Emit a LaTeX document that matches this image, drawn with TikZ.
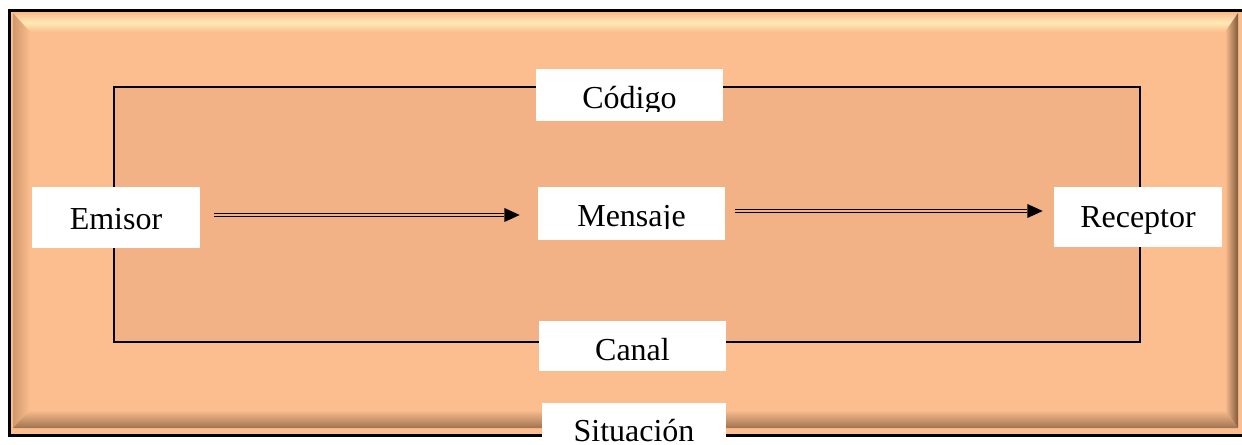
\documentclass[tikz,border=0pt]{standalone}
\usepackage{fontspec}
\setmainfont{Liberation Serif}
\usetikzlibrary{calc,arrows.meta}
\definecolor{outerfill}{HTML}{FCBE8E}
\definecolor{innerfill}{HTML}{F3B286}
\definecolor{bevlight}{HTML}{FFEAB6}
\definecolor{bevdark}{HTML}{7F5A3C}
\definecolor{bevmid}{HTML}{C58F64}
\begin{document}
\begin{tikzpicture}[x=0.75pt,y=-0.75pt,
  txt/.style={font=\fontsize{24}{28}\selectfont, inner sep=0pt, anchor=base, text=black},
  box/.style n args={4}{fill=white, draw=none, inner sep=0pt,
    path picture={
      \clip (path picture bounding box.north west) rectangle ($(path picture bounding box.south east)+(0,-#3)$);
      \node[txt] (#1) at ($(path picture bounding box.center)+(0,#2)$) {#4};}},
  arrline/.style={draw=black, line width=3.4pt, -{Triangle[length=11.5pt,width=10.5pt,line width=0pt]}},
  arrgap/.style={draw=innerfill, line width=0.8pt}
]
\useasboundingbox (0,0) rectangle (1242,445);
% outer bevelled frame
\fill[outerfill] (9,10) rectangle (1244,435);
\shade[top color=outerfill, bottom color=outerfill, middle color=bevlight]
  (13,13) -- (1238,13) -- (1225,32) -- (30,32) -- cycle;
\shade[left color=bevmid!80!outerfill, right color=outerfill]
  (13,13) -- (30,32) -- (30,410) -- (13,428) -- cycle;
\shade[left color=outerfill, right color=bevdark]
  (1225,32) -- (1238,13) -- (1238,428) -- (1225,410) -- cycle;
\shade[top color=outerfill, bottom color=bevdark!75!outerfill]
  (30,410) -- (1225,410) -- (1238,428) -- (13,428) -- cycle;
\draw[line width=2.25pt] (9,10.5) rectangle (1246,435);
% inner frame
\draw[line width=1.5pt, fill=innerfill] (114,87) rectangle (1140,342);
% labels
\node[box={tcod}{14}{9}{Código}, minimum width=140.25pt, minimum height=39pt] (codigo) at (629.5,95) {};
\node[box={temi}{12.5}{8}{Emisor}, minimum width=126pt, minimum height=45.75pt] (emisor) at (116,217.5) {};
\node[box={tmen}{13.5}{11}{Mensaje}, minimum width=140.25pt, minimum height=39.75pt] (mensaje) at (631.5,213.5) {};
\node[box={trec}{11}{10}{Receptor}, minimum width=126pt, minimum height=45pt] (receptor) at (1138,217) {};
\node[box={tcan}{14.5}{11}{Canal}, minimum width=140.25pt, minimum height=37.5pt] (canal) at (632.5,346) {};
\node[box={tsit}{12}{8}{Situación}, minimum width=138pt, minimum height=39pt] (situacion) at (634,429) {};
% arrows
\draw[arrline, shorten <=10.5pt, shorten >=13.5pt]
  ($(emisor.east)+(0,-2.5)$) -- ($(emisor.east -| mensaje.west)+(0,-2.5)$);
\draw[arrgap, shorten <=10.5pt, shorten >=25pt]
  ($(emisor.east)+(0,-2.5)$) -- ($(emisor.east -| mensaje.west)+(0,-2.5)$);
\draw[arrline, shorten <=7.5pt, shorten >=8.25pt]
  ($(mensaje.east)+(0,-2.5)$) -- ($(mensaje.east -| receptor.west)+(0,-2.5)$);
\draw[arrgap, shorten <=7.5pt, shorten >=19.75pt]
  ($(mensaje.east)+(0,-2.5)$) -- ($(mensaje.east -| receptor.west)+(0,-2.5)$);
\end{tikzpicture}
\end{document}
